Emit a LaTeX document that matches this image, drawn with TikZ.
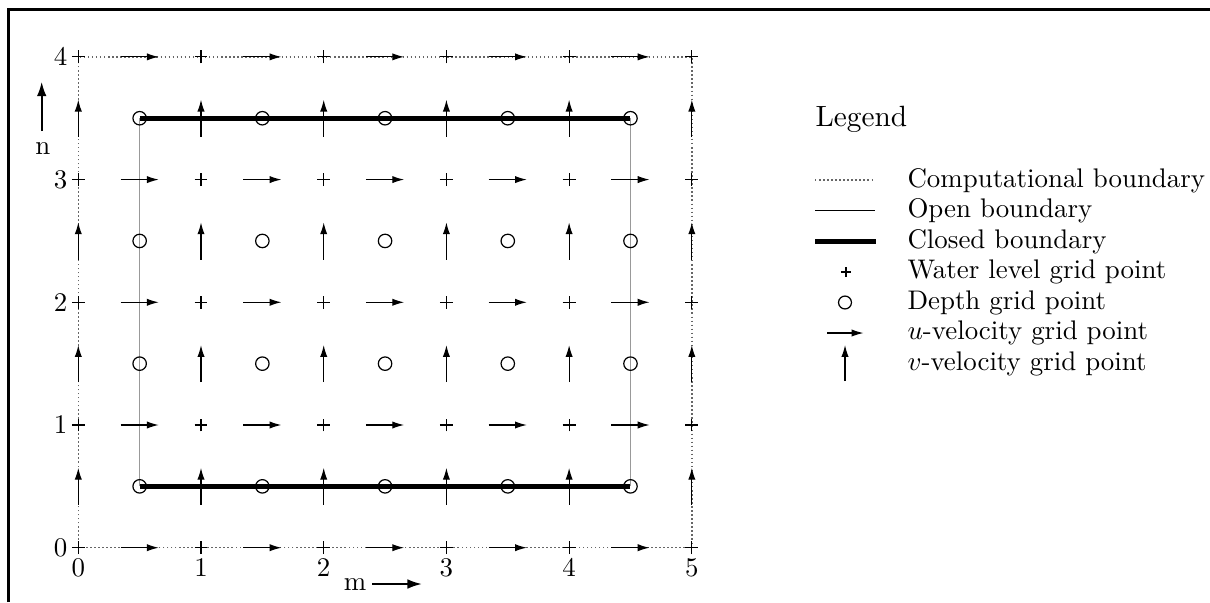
\documentclass[tikz,border=0pt]{standalone}
\usetikzlibrary{arrows.meta}
\begin{document}
\begin{tikzpicture}[x=0.3717pt,y=-0.3717pt,
  frame/.style={line width=0.8pt},
  compb/.style={gray!80!black,line width=0.55pt,dash pattern=on 0.55pt off 0.95pt},
  openb/.style={gray!80,line width=0.55pt},
  closedb/.style={black,line width=1.7pt},
  wl/.style={line width=0.4pt},
  dp/.style={line width=0.45pt},
  uvel/.style={line width=0.45pt,-{Latex[length=4.4pt,width=2.7pt]}},
  bigarrow/.style={line width=0.75pt,-{Latex[length=5.4pt,width=3.6pt]}},
  lbl/.style={inner sep=0pt},
  legtext/.style={anchor=base west,inner sep=0pt}]
\useasboundingbox (0,0) rectangle (1210,602);
% frame
\draw[frame] (8.5,602) -- (8.5,9.5) -- (1210,9.5);

\begin{scope}[shift={(78.3,547.7)},x=45.61pt,y=45.61pt]
  % computational boundary
  \draw[compb] (0,0) rectangle (5,4);
  % open boundary
  \draw[openb] (0.5,0.5) -- (0.5,3.5);
  \draw[openb] (4.5,0.5) -- (4.5,3.5);
  % closed boundary
  \draw[closedb] (0.5,0.5) -- (4.5,0.5);
  \draw[closedb] (0.5,3.5) -- (4.5,3.5);
  % depth points
  \foreach \i in {0,...,4}{
    \foreach \j in {0,...,3}{
      \draw[dp] ({\i+0.5},{\j+0.5}) circle[radius=2.5pt];
    }
  }
  % water level points
  \foreach \i in {0,...,5}{
    \foreach \j in {0,...,4}{
      \draw[wl] (\i,\j) ++(-2.4pt,0) -- ++(4.8pt,0);
      \draw[wl] (\i,\j) ++(0,-2.4pt) -- ++(0,4.8pt);
    }
  }
  % u-velocity points
  \foreach \i in {0,...,4}{
    \foreach \j in {0,...,4}{
      \draw[uvel] ({\i+0.5},\j) ++(-7.1pt,0) -- ++(14.2pt,0);
    }
  }
  % v-velocity points
  \foreach \i in {0,...,5}{
    \foreach \j in {0,...,3}{
      \draw[uvel] (\i,{\j+0.5}) ++(0,-6.9pt) -- ++(0,13.8pt);
    }
  }
  % axis labels
  \foreach \i in {0,...,5}{
    \node[lbl,yshift=-7.5pt] (xl\i) at (\i,0) {\i};
  }
  \foreach \j in {0,...,4}{
    \node[lbl,xshift=-6.6pt] (yl\j) at (0,\j) {\j};
  }
\end{scope}

% m and n direction labels
\node[lbl] (mlab) at (355,585) {m};
\coordinate (m0) at (372,584);
\coordinate (m1) at (422,584);
\draw[bigarrow] (m0) -- (m1);
\node[lbl] (nlab) at (42.8,148.4) {n};
\coordinate (n0) at (41.7,131);
\coordinate (n1) at (41.7,81.7);
\draw[bigarrow] (n0) -- (n1);

% legend
\node[legtext] (leg) at (815,126.7) {\fontsize{10.9}{13}\selectfont Legend};
\node[legtext] (t1) at (907,187.3) {Computational boundary};
\node[legtext] (t2) at (907,217.8) {Open boundary};
\node[legtext] (t3) at (907,248.2) {Closed boundary};
\node[legtext] (t4) at (907,278.7) {Water level grid point};
\node[legtext] (t5) at (907,309.1) {Depth grid point};
\node[legtext] (t6) at (907,339.6) {$u$-velocity grid point};
\node[legtext] (t7) at (907,370.0) {$v$-velocity grid point};

\coordinate (s1a) at (815,180); \coordinate (s1b) at (873,180);
\draw[compb] (s1a) -- (s1b);
\coordinate (s2a) at (815,210.7); \coordinate (s2b) at (875,210.7);
\draw[line width=0.45pt] (s2a) -- (s2b);
\coordinate (s3a) at (815,241.5); \coordinate (s3b) at (876,241.5);
\draw[closedb] (s3a) -- (s3b);
\coordinate (s4) at (846,272);
\draw[wl] (s4) ++(-1.9pt,0) -- ++(3.8pt,0);
\draw[wl] (s4) ++(0,-1.9pt) -- ++(0,3.8pt);
\coordinate (s5) at (845,302.5);
\draw[dp] (s5) circle[radius=2.4pt];
\coordinate (s6a) at (827,333); \coordinate (s6b) at (863.5,333);
\draw[uvel] (s6a) -- (s6b);
\coordinate (s7a) at (845,381); \coordinate (s7b) at (845,345);
\draw[uvel] (s7a) -- (s7b);
\end{tikzpicture}
\end{document}
